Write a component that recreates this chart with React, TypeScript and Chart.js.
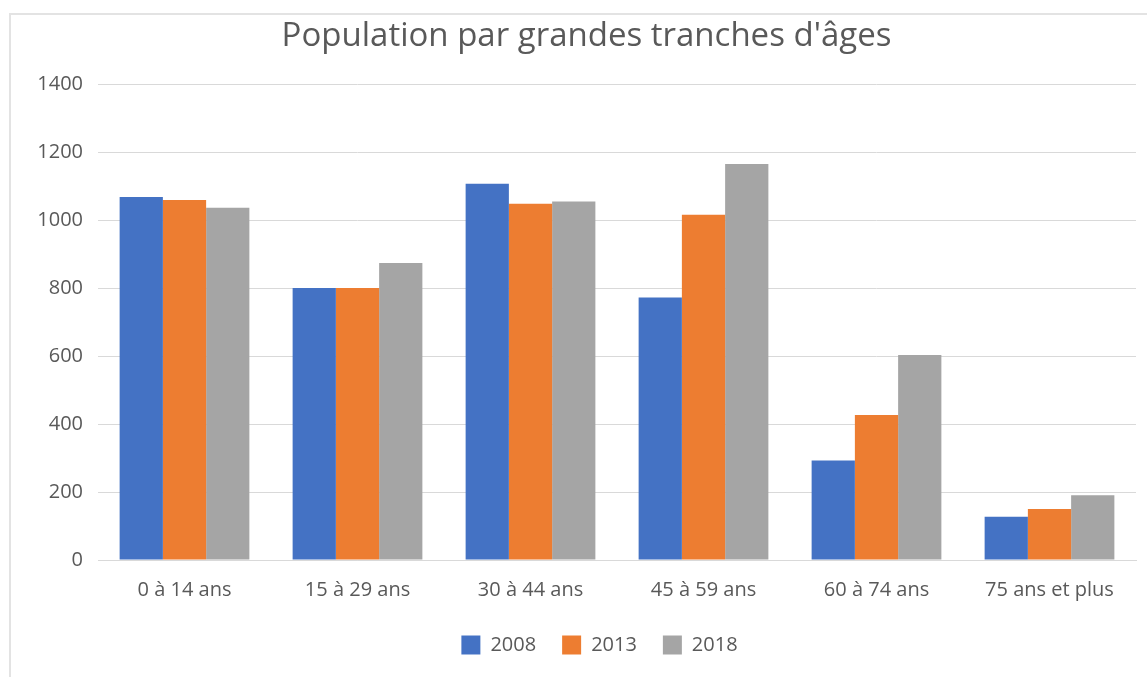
import React, { useEffect, useRef } from "react";
import { Chart, registerables } from "chart.js";

Chart.register(...registerables);

const categories = ["0 à 14 ans", "15 à 29 ans", "30 à 44 ans", "45 à 59 ans", "60 à 74 ans", "75 ans et plus"];
const values2008 = [1069, 801, 1108, 773, 293, 127];
const values2013 = [1060, 801, 1049, 1017, 427, 150];
const values2018 = [1037, 875, 1056, 1166, 604, 191];
const seriesLabels = ["2008", "2013", "2018"];
const seriesColors = ["#4472C4", "#ED7D31", "#A5A5A5"];
const titleText = "Population par grandes tranches d'âges";

const FONT = "'Open Sans', 'DejaVu Sans', sans-serif";
const TEXT = "#595959";

const legendShift = {
  id: "legendShift",
  afterLayout(chart: any) {
    const lg = chart.legend;
    if (lg) {
      lg.left += 13;
      lg.right += 13;
    }
  },
};

export default function App() {
  const ref = useRef<HTMLCanvasElement | null>(null);

  useEffect(() => {
    if (!ref.current) return;
    const chart = new Chart(ref.current, {
      type: "bar",
      data: {
        labels: categories,
        datasets: [values2008, values2013, values2018].map((d, i) => ({
          label: seriesLabels[i],
          data: d,
          backgroundColor: seriesColors[i],
          borderWidth: 0,
          categoryPercentage: 0.75,
          barPercentage: 1,
        })),
      },
      plugins: [legendShift],
      options: {
        animation: false,
        responsive: false,
        maintainAspectRatio: false,
        layout: { padding: { left: 37, right: 11, top: 0, bottom: 12 } },
        plugins: {
          tooltip: { enabled: false },
          title: {
            display: true,
            text: titleText,
            color: TEXT,
            font: { family: FONT, size: 33, weight: "normal" },
            padding: { top: 17, bottom: 28 },
          },
          legend: {
            position: "bottom",
            labels: {
              color: TEXT,
              font: { family: FONT, size: 20 },
              boxWidth: 19,
              boxHeight: 19,
              padding: 26,
            },
          },
        },
        scales: {
          x: {
            grid: { display: false, drawTicks: false },
            border: { display: true, color: "#D9D9D9", width: 1 },
            ticks: { color: TEXT, font: { family: FONT, size: 20 }, padding: 18, maxRotation: 0 },
            afterFit: (s: any) => { s.height = 49; },
          },
          y: {
            min: 0,
            max: 1400,
            ticks: {
              stepSize: 200,
              color: TEXT,
              font: { family: FONT, size: 20 },
              padding: 15,
              callback: (v: any) => String(v),
            },
            grid: { color: "#D9D9D9", lineWidth: 1, drawTicks: false },
            border: { display: false },
            afterFit: (s: any) => { s.width = 61; },
          },
        },
      },
    });
    return () => chart.destroy();
  }, []);

  return (
    <div style={{ position: "fixed", left: 0, top: 0, width: 1147, height: 677, background: "#fff" }}>
      <div style={{ position: "absolute", left: 9, top: 13, width: 1200, height: 700, borderLeft: "2px solid #E3E3E3", borderTop: "2px solid #E3E3E3" }} />
      <canvas ref={ref} width={1147} height={677} style={{ position: "absolute", left: 0, top: 0 }} />
    </div>
  );
}
